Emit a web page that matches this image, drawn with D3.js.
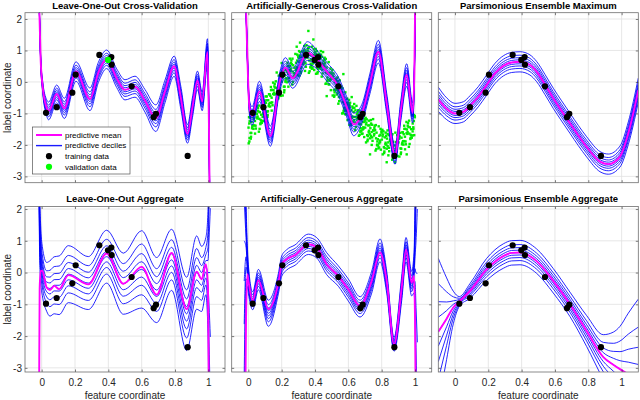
<!DOCTYPE html>
<html><head><meta charset="utf-8">
<script src="https://cdn.jsdelivr.net/npm/d3@7"></script>
<style>
body{margin:0;background:#fff}
svg{display:block}
text{font-family:"Liberation Sans",Arial,Helvetica,sans-serif}
</style>
</head><body>
<svg id="c" width="640" height="400"></svg>
<script>
// ---------------- data ----------------
const trainX = [0.026,0.09,0.184,0.204,0.346,0.398,0.418,0.42,0.54,0.672,0.686,0.876];
const trainY = [-0.98,-0.80,-0.34,0.23,0.86,0.70,0.79,0.55,-0.14,-1.12,-1.01,-2.35];
const leftOutIndex = 5;

const xTickVals = [0,0.2,0.4,0.6,0.8,1];
const xTickLabels = ["0","0.2","0.4","0.6","0.8","1"];
const yTickVals = [-3,-2,-1,0,1,2];
const yTickLabels = ["-3","-2","-1","0","1","2"];
const decileZ = [-1.2816,-0.8416,-0.5244,-0.2533,0,0.2533,0.5244,0.8416,1.2816];

// Leave-One-Out Cross-Validation
const looCvX = [-0.03,-0.02,-0.014,-0.006,0.006,0.03,0.042,0.09,0.136,0.206,0.29,0.34,0.39,0.45,0.5,0.56,0.62,0.685,0.74,0.795,0.835,0.875,0.905,0.935,0.963,0.995,1.004,1.012];
const looCvMean = [6.0,3.3,2.3,0.7,-0.15,-0.82,-0.92,-0.38,-0.84,0.33,-0.55,0.3,0.72,0.12,-0.25,-0.15,-0.6,-1.15,-0.3,0.5,-0.5,-1.65,-0.8,0.05,-0.62,0.95,-1.5,-6];
const looCvSd = [0.05,0.05,0.06,0.09,0.14,0.2,0.22,0.22,0.25,0.24,0.28,0.25,0.23,0.23,0.25,0.26,0.28,0.33,0.28,0.25,0.28,0.23,0.25,0.23,0.23,0.33,0.2,0.1];

// Artificially-Generous Cross-Validation
const agCvX = [-0.03,-0.02,-0.014,-0.006,0.006,0.022,0.066,0.132,0.19,0.222,0.266,0.355,0.41,0.47,0.54,0.59,0.632,0.68,0.73,0.78,0.83,0.88,0.915,0.95,0.986,0.996,1.006];
const agCvMean = [6.0,3.3,2.3,0.8,-0.79,-1.08,-0.3,-1.72,0.05,0.45,0.12,0.92,0.72,0.33,-0.14,-0.79,-1.35,-1.02,-0.04,0.96,-0.68,-2.32,-0.9,0.22,-0.98,0.3,5];
const agCvSd = [0.05,0.05,0.06,0.11,0.17,0.23,0.25,0.25,0.23,0.25,0.25,0.28,0.23,0.23,0.23,0.25,0.28,0.23,0.25,0.28,0.25,0.23,0.25,0.28,0.25,0.15,0.1];

// Parsimonious Ensemble Maximum
const peMaxX = [-0.1,-0.05,0,0.05,0.09,0.14,0.19,0.24,0.29,0.34,0.39,0.45,0.49,0.54,0.59,0.64,0.69,0.74,0.79,0.87,0.92,0.99,1.04,1.1];
const peMaxMean = [-0.55,-0.85,-1.0,-0.95,-0.76,-0.47,-0.1,0.27,0.51,0.62,0.64,0.54,0.33,-0.08,-0.52,-0.92,-1.31,-1.7,-2.06,-2.53,-2.61,-2.37,-1.63,-0.26];
const peMaxSd = [0.3,0.27,0.25,0.25,0.25,0.25,0.25,0.25,0.25,0.25,0.25,0.25,0.25,0.25,0.25,0.25,0.25,0.25,0.25,0.25,0.25,0.26,0.28,0.3];

// Leave-One-Out Aggregate
const looAggX = [-0.025,-0.016,-0.012,-0.006,0.004,0.03,0.05,0.075,0.105,0.16,0.28,0.39,0.49,0.6,0.69,0.78,0.87,0.93,0.96,0.985,0.998,1.004,1.012];
const looAggMean = [-8,-4.5,-0.5,0.06,0.05,-0.47,-0.55,-0.42,-0.52,-0.08,-0.37,0.6,-0.35,0.18,-0.7,0.62,-1.15,0.03,-0.21,0.26,-0.5,-4.5,-8];
const looAggMid = [6,3.5,1.5,0.6,0.05,-0.45,-0.5,-0.4,-0.4,-0.05,-0.33,0.5,-0.35,0.1,-0.55,0.4,-1.3,0.0,-0.2,0.2,0.0,0.0,0.0];
const looAggSd = [1.5,1.0,0.8,0.7,0.6,0.6,0.68,0.7,0.72,0.7,0.65,0.65,0.75,0.95,0.8,0.75,0.9,0.9,0.8,0.7,1.5,4,8];

// Artificially-Generous Aggregate
const agAggX = [-0.025,-0.014,-0.006,0.0,0.026,0.06,0.12,0.18,0.2,0.23,0.28,0.36,0.41,0.47,0.54,0.6,0.67,0.74,0.79,0.83,0.874,0.92,0.946,0.98,0.994,1.0,1.006,1.014];
const agAggMean = [-8,-1.5,-0.05,-0.25,-0.89,-0.24,-1.15,-0.32,0.26,0.42,0.55,0.89,0.79,0.26,-0.11,-0.53,-1.05,-0.26,0.63,-0.26,-2.26,-0.47,0.73,-0.32,-0.11,-1.5,-5,-8];
const agAggMid = [1,0.8,0.2,-0.2,-0.89,-0.22,-1.28,-0.35,0.2,0.4,0.55,0.89,0.78,0.28,-0.11,-0.55,-1.08,-0.3,0.7,-0.3,-2.26,-0.5,0.72,-0.35,0.0,0.5,1.0,2.0];
const agAggSd = [5,1.2,0.5,0.35,0.22,0.25,0.32,0.25,0.25,0.25,0.25,0.25,0.25,0.27,0.25,0.27,0.25,0.27,0.28,0.27,0.17,0.3,0.3,0.3,0.5,1.5,4,8];

// Parsimonious Ensemble Aggregate
const peAggX = [-0.1,-0.05,-0.01,0.026,0.09,0.19,0.29,0.34,0.39,0.49,0.59,0.69,0.79,0.89,0.95,0.99,1.04,1.1];
const peAggMean = [-1.86,-1.45,-1.1,-0.91,-0.58,0.1,0.52,0.62,0.63,0.36,-0.26,-1.0,-1.84,-2.66,-2.9,-3.04,-3.2,-3.4];
const peAggSd = [1.8,1.0,0.4,0.12,0.18,0.27,0.3,0.3,0.3,0.3,0.3,0.3,0.38,0.55,0.8,1.05,1.5,2.0];

// validation data (green cloud, Artificially-Generous CV)
const validX = [
0.001,0.016,0.008,0.022,0.004,0.013,0.019,0.006,0.024,
0.028,0.036,0.045,0.032,0.040,0.049,0.027,0.043,0.035,
0.051,0.066,0.058,0.072,0.054,0.063,0.069,0.056,0.074,
0.078,0.086,0.095,0.082,0.090,0.099,0.077,0.093,0.085,
0.101,0.116,0.108,0.122,0.104,0.113,0.119,0.106,0.124,
0.128,0.136,0.145,0.132,0.140,0.149,0.127,0.143,0.135,
0.151,0.166,0.158,0.172,0.154,0.163,0.169,0.156,0.174,
0.178,0.186,0.195,0.182,0.190,0.199,0.177,0.193,0.185,
0.201,0.216,0.208,0.222,0.204,0.213,0.219,0.206,0.224,
0.228,0.236,0.245,0.232,0.240,0.249,0.227,0.243,0.235,
0.251,0.266,0.258,0.272,0.254,0.263,0.269,0.256,0.274,
0.278,0.286,0.295,0.282,0.290,0.299,0.277,0.293,0.285,
0.301,0.316,0.308,0.322,0.304,0.313,0.319,0.306,0.324,
0.328,0.336,0.345,0.332,0.340,0.349,0.327,0.343,0.335,
0.351,0.366,0.358,0.372,0.354,0.363,0.369,0.356,0.374,
0.378,0.386,0.395,0.382,0.390,0.399,0.377,0.393,0.385,
0.401,0.416,0.408,0.422,0.404,0.413,0.419,0.406,0.424,
0.428,0.436,0.445,0.432,0.440,0.449,0.427,0.443,0.435,
0.451,0.466,0.458,0.472,0.454,0.463,0.469,0.456,0.474,
0.478,0.486,0.495,0.482,0.490,0.499,0.477,0.493,0.485,
0.501,0.516,0.508,0.522,0.504,0.513,0.519,0.506,0.524,
0.528,0.536,0.545,0.532,0.540,0.549,0.527,0.543,0.535,
0.551,0.566,0.558,0.572,0.554,0.563,0.569,0.556,0.574,
0.578,0.586,0.595,0.582,0.590,0.599,0.577,0.593,0.585,
0.601,0.616,0.608,0.622,0.604,0.613,0.619,0.606,0.624,
0.628,0.636,0.645,0.632,0.640,0.649,0.627,0.643,0.635,
0.651,0.666,0.658,0.672,0.654,0.663,0.669,0.656,0.674,
0.678,0.686,0.695,0.682,0.690,0.699,0.677,0.693,0.685,
0.701,0.716,0.708,0.722,0.704,0.713,0.719,0.706,0.724,
0.728,0.736,0.745,0.732,0.740,0.749,0.727,0.743,0.735,
0.751,0.766,0.758,0.772,0.754,0.763,0.769,0.756,0.774,
0.778,0.786,0.795,0.782,0.790,0.799,0.777,0.793,0.785,
0.801,0.816,0.808,0.822,0.804,0.813,0.819,0.806,0.824,
0.828,0.836,0.845,0.832,0.840,0.849,0.827,0.843,0.835,
0.851,0.866,0.858,0.872,0.854,0.863,0.869,0.856,0.874,
0.878,0.886,0.895,0.882,0.890,0.899,0.877,0.893,0.885,
0.901,0.916,0.908,0.922,0.904,0.913,0.919,0.906,0.924,
0.928,0.936,0.945,0.932,0.940,0.949,0.927,0.943,0.935,
0.951,0.966,0.958,0.972,0.954,0.963,0.969,0.956,0.974,
0.978,0.986,0.995,0.982,0.990,0.999,0.977,0.993,0.985,
0.36,0.31,0.29,0.002,0.007,0.57,0.62,0.88,0.95,0.2,0.17,0.39,0.47,0.73,0.83,
0.0055,0.0175,0.0105,0.0235,0.0145, 0.0305,0.0425,0.0355,0.0485,0.0395,
0.0555,0.0675,0.0605,0.0735,0.0645, 0.0805,0.0925,0.0855,0.0985,0.0895,
0.1055,0.1175,0.1105,0.1235,0.1145, 0.1305,0.1425,0.1355,0.1485,0.1395,
0.1555,0.1675,0.1605,0.1735,0.1645, 0.1805,0.1925,0.1855,0.1985,0.1895,
0.2055,0.2175,0.2105,0.2235,0.2145, 0.2305,0.2425,0.2355,0.2485,0.2395,
0.2555,0.2675,0.2605,0.2735,0.2645, 0.2805,0.2925,0.2855,0.2985,0.2895,
0.3055,0.3175,0.3105,0.3235,0.3145, 0.3305,0.3425,0.3355,0.3485,0.3395,
0.3555,0.3675,0.3605,0.3735,0.3645, 0.3805,0.3925,0.3855,0.3985,0.3895,
0.4055,0.4175,0.4105,0.4235,0.4145, 0.4305,0.4425,0.4355,0.4485,0.4395,
0.4555,0.4675,0.4605,0.4735,0.4645, 0.4805,0.4925,0.4855,0.4985,0.4895,
0.5055,0.5175,0.5105,0.5235,0.5145, 0.5305,0.5425,0.5355,0.5485,0.5395,
0.5555,0.5675,0.5605,0.5735,0.5645, 0.5805,0.5925,0.5855,0.5985,0.5895,
0.6055,0.6175,0.6105,0.6235,0.6145, 0.6305,0.6425,0.6355,0.6485,0.6395,
0.6555,0.6675,0.6605,0.6735,0.6645, 0.6805,0.6925,0.6855,0.6985,0.6895,
0.7055,0.7175,0.7105,0.7235,0.7145, 0.7305,0.7425,0.7355,0.7485,0.7395,
0.7555,0.7675,0.7605,0.7735,0.7645, 0.7805,0.7925,0.7855,0.7985,0.7895,
0.8055,0.8175,0.8105,0.8235,0.8145, 0.8305,0.8425,0.8355,0.8485,0.8395,
0.8555,0.8675,0.8605,0.8735,0.8645, 0.8805,0.8925,0.8855,0.8985,0.8895,
0.9055,0.9175,0.9105,0.9235,0.9145, 0.9305,0.9425,0.9355,0.9485,0.9395,
0.9555,0.9675,0.9605,0.9735,0.9645, 0.9805,0.9925,0.9855,0.9985,0.9895];
const validY = [
-1.45,-1.74,-1.25,-1.47,-1.12,-1.62,-1.27,-1.89,-1.09,
-1.38,-0.99,-1.48,-1.16,-1.64,-1.13,-1.10,-1.39,-0.89,
-1.02,-1.17,-0.82,-1.34,-1.16,-1.58,-0.96,-0.91,-1.21,
-1.23,-0.86,-1.24,-0.59,-1.03,-0.67,-1.04,-0.59,-1.24,
-0.79,-1.05,-0.58,-0.77,-0.46,-0.94,-0.58,-1.22,-0.39,
-0.67,-0.26,-0.74,-0.44,-0.91,-0.38,-0.39,-0.65,-0.16,
-0.26,-0.39,-0.06,-0.56,-0.40,-0.81,-0.19,-0.14,-0.43,
-0.45,-0.07,-0.44,0.20,-0.24,0.13,-0.25,0.20,-0.45,
0.01,-0.26,0.22,0.01,0.34,-0.15,0.21,-0.43,0.39,
0.12,0.51,0.02,0.33,-0.15,0.38,0.39,0.12,0.61,
0.49,0.33,0.68,0.15,0.35,-0.08,0.53,0.60,0.28,
0.26,0.61,0.22,0.89,0.43,0.78,0.45,0.87,0.24,
0.65,0.33,0.84,0.59,0.98,0.46,0.80,0.20,0.97,
0.69,1.03,0.48,0.88,0.35,0.81,0.97,0.59,1.14,
0.93,0.68,1.08,0.46,0.77,0.29,0.86,1.01,0.58,
0.51,0.82,0.38,1.12,0.62,0.92,0.71,1.04,0.45,
0.75,0.32,0.88,0.53,1.05,0.47,0.76,0.26,0.89,
0.57,0.87,0.27,0.74,0.17,0.58,0.85,0.39,0.98,
0.67,0.30,0.77,0.03,0.49,-0.06,0.46,0.71,0.14,
0.06,0.29,-0.26,0.63,0.04,0.25,0.27,0.43,-0.08,
0.10,-0.43,0.19,-0.26,0.38,-0.26,-0.01,-0.43,0.10,
-0.25,0.02,-0.61,-0.09,-0.69,-0.31,0.04,-0.48,0.14,
-0.23,-0.64,-0.15,-0.92,-0.42,-1.00,-0.49,-0.20,-0.82,
-0.90,-0.67,-1.21,-0.33,-0.92,-0.71,-0.69,-0.53,-1.03,
-0.86,-1.33,-0.74,-1.14,-0.57,-1.17,-0.90,-1.36,-0.78,
-1.11,-0.82,-1.43,-0.95,-1.53,-1.12,-0.83,-1.30,-0.70,
-1.02,-1.33,-0.90,-1.58,-1.20,-1.71,-1.17,-0.96,-1.47,
-1.55,-1.27,-1.75,-0.96,-1.49,-1.23,-1.35,-1.08,-1.64,
-1.45,-1.83,-1.29,-1.60,-1.14,-1.69,-1.38,-1.92,-1.23,
-1.66,-1.32,-1.87,-1.47,-2.00,-1.54,-1.38,-1.76,-1.21,
-1.54,-1.79,-1.39,-2.01,-1.70,-2.18,-1.61,-1.46,-1.89,
-2.02,-1.71,-2.15,-1.41,-1.91,-1.61,-1.82,-1.49,-2.08,
-1.83,-2.21,-1.67,-1.98,-1.52,-2.07,-1.76,-2.30,-1.61,
-1.99,-1.65,-2.20,-1.80,-2.33,-1.87,-1.71,-2.09,-1.54,
-1.83,-2.08,-1.68,-2.30,-1.99,-2.47,-1.90,-1.75,-2.18,
-2.22,-1.91,-2.35,-1.61,-2.11,-1.81,-2.02,-1.69,-2.28,
-1.92,-2.24,-1.73,-1.98,-1.59,-2.11,-1.77,-2.37,-1.60,
-1.88,-1.49,-1.98,-1.66,-2.14,-1.63,-1.60,-1.89,-1.39,
-1.51,-1.64,-1.31,-1.81,-1.65,-2.06,-1.44,-1.39,-1.68,
-1.70,-1.32,-1.69,-1.05,-1.49,-1.12,-1.50,-1.05,-1.70,
1.62,1.25,1.12,-1.95,-1.78,0.25,-0.48,-2.55,-2.3,0.6,0.3,1.35,-0.45,-2.3,-2.55,
-1.32,-1.62,-1.13,-1.41,-1.80, -1.49,-0.99,-1.38,-0.77,-1.24,
-1.10,-1.49,-0.94,-1.31,-0.75, -1.30,-0.79,-1.11,-0.63,-0.99,
-0.66,-0.93,-0.46,-0.71,-1.11, -0.78,-0.25,-0.66,-0.02,-0.50,
-0.34,-0.72,-0.18,-0.53,0.02, -0.52,0.01,-0.32,0.17,-0.19,
0.14,-0.15,0.34,0.07,-0.33, -0.01,0.51,0.11,0.74,0.26,
0.41,0.00,0.56,0.18,0.74, 0.18,0.68,0.37,0.83,0.48,
0.77,0.45,0.95,0.64,0.28, 0.56,0.99,0.64,1.17,0.76,
0.82,0.34,0.94,0.48,1.10, 0.42,0.85,0.58,0.96,0.67,
0.83,0.42,0.98,0.58,0.27, 0.43,0.80,0.48,0.95,0.58,
0.53,-0.05,0.61,0.04,0.73, -0.07,0.25,0.05,0.30,0.10,
0.15,-0.33,0.27,-0.22,-0.47, -0.40,-0.08,-0.36,0.05,-0.28,
-0.39,-0.99,-0.32,-0.91,-0.20, -1.02,-0.71,-0.91,-0.66,-0.86,
-0.79,-1.23,-0.66,-1.10,-1.37, -1.26,-0.90,-1.21,-0.76,-1.11,
-1.15,-1.68,-1.05,-1.56,-0.91, -1.65,-1.27,-1.51,-1.18,-1.44,
-1.35,-1.72,-1.19,-1.55,-1.88, -1.79,-1.36,-1.71,-1.18,-1.59,
-1.65,-2.13,-1.53,-1.99,-1.37, -2.11,-1.68,-1.95,-1.57,-1.86,
-1.73,-2.10,-1.57,-1.93,-2.26, -2.12,-1.69,-2.04,-1.51,-1.92,
-1.94,-2.42,-1.82,-2.28,-1.66, -2.31,-1.88,-2.15,-1.77,-2.06,
-1.80,-2.12,-1.62,-1.93,-2.29, -1.99,-1.49,-1.88,-1.27,-1.74,
-1.59,-1.97,-1.43,-1.78,-1.23, -1.77,-1.24,-1.57,-1.08,-1.44];

const panels = [
  {title:"Leave-One-Out Cross-Validation", row:0, col:0, x:looCvX, mean:looCvMean, sd:looCvSd, legend:true, leaveOut:true},
  {title:"Artificially-Generous Cross-Validation", row:0, col:1, x:agCvX, mean:agCvMean, sd:agCvSd, cloud:true},
  {title:"Parsimonious Ensemble Maximum", row:0, col:2, x:peMaxX, mean:peMaxMean, sd:peMaxSd},
  {title:"Leave-One-Out Aggregate", row:1, col:0, x:looAggX, mean:looAggMean, mid:looAggMid, sd:looAggSd},
  {title:"Artificially-Generous Aggregate", row:1, col:1, x:agAggX, mean:agAggMean, mid:agAggMid, sd:agAggSd},
  {title:"Parsimonious Ensemble Aggregate", row:1, col:2, x:peAggX, mean:peAggMean, sd:peAggSd}
];

// ---------------- layout ----------------
const colLeft = [25, 231.7, 438.3], PW = 200;
const rowRange = [[12.7,182.7],[206.5,372]];
const rowDomain = [[-3.2,2.2],[-3.13,2.08]];
const FONT = '"Liberation Sans",Arial,Helvetica,sans-serif';
const INK = '#262626';

const svg = d3.select('#c');
const defs = svg.append('defs');

panels.forEach((p,i)=>{
  const L = colLeft[p.col], T = rowRange[p.row][0], B = rowRange[p.row][1];
  const x = d3.scaleLinear().domain([-0.1,1.1]).range([L, L+PW]);
  const y = d3.scaleLinear().domain(rowDomain[p.row]).range([B, T]);
  defs.append('clipPath').attr('id','clip'+i).append('rect')
    .attr('x',L).attr('y',T).attr('width',PW).attr('height',B-T);
  const g = svg.append('g');

  // grid
  g.append('g').selectAll('line').data(xTickVals).join('line')
    .attr('x1',d=>x(d)).attr('x2',d=>x(d)).attr('y1',T).attr('y2',B)
    .attr('stroke','#e1e1e1').attr('stroke-width',0.8);
  g.append('g').selectAll('line').data(yTickVals).join('line')
    .attr('y1',d=>y(d)).attr('y2',d=>y(d)).attr('x1',L).attr('x2',L+PW)
    .attr('stroke','#e1e1e1').attr('stroke-width',0.8);

  const plot = g.append('g').attr('clip-path',`url(#clip${i})`);
  const line = d3.line().x(d=>x(d[0])).y(d=>y(d[1])).curve(d3.curveMonotoneX);
  const mid = p.mid || p.mean;

  if (p.cloud) {
    plot.append('g').selectAll('rect').data(validX).join('rect')
      .attr('x',(d,k)=>x(d)-1.2).attr('y',(d,k)=>y(validY[k])-1.2)
      .attr('width',2.4).attr('height',2.4).attr('fill','#00ee00');
  }

  decileZ.forEach(z=>{
    const pts = p.x.map((xv,k)=>[xv, mid[k] + z*p.sd[k]]);
    plot.append('path').attr('d', line(pts)).attr('fill','none')
      .attr('stroke','#0000ff').attr('stroke-width',0.85);
  });
  plot.append('path').attr('d', line(p.x.map((xv,k)=>[xv,p.mean[k]])))
    .attr('fill','none').attr('stroke','#ff00ff').attr('stroke-width',1.9);

  // training points
  const tIdx = trainX.map((d,k)=>k).filter(k=>!(p.leaveOut && k===leftOutIndex));
  plot.append('g').selectAll('circle').data(tIdx).join('circle')
    .attr('cx',k=>x(trainX[k])).attr('cy',k=>y(trainY[k])).attr('r',3.1).attr('fill','#000');
  if (p.leaveOut) {
    plot.append('circle').attr('cx',x(trainX[leftOutIndex])).attr('cy',y(trainY[leftOutIndex]))
      .attr('r',3.1).attr('fill','#00ff00');
  }

  // axes
  const styleAxis = a => { a.select('.domain').remove();
    a.selectAll('line').attr('stroke',INK).attr('stroke-width',0.6);
    a.selectAll('text').attr('fill',INK).attr('font-family',FONT).attr('font-size',10); };
  g.append('g').attr('transform',`translate(${L},0)`)
    .call(d3.axisLeft(y).tickValues(yTickVals).tickSize(-2.5).tickPadding(3)
      .tickFormat((d,k)=> p.col===0 ? yTickLabels[k] : '')).call(styleAxis);
  g.append('g').attr('transform',`translate(${L+PW},0)`)
    .call(d3.axisRight(y).tickValues(yTickVals).tickSize(-2.5).tickFormat('')).call(styleAxis);
  g.append('g').attr('transform',`translate(0,${B})`)
    .call(d3.axisBottom(x).tickValues(xTickVals).tickSize(-2.5).tickPadding(7)
      .tickFormat((d,k)=> p.row===1 ? xTickLabels[k] : '')).call(styleAxis);
  g.append('g').attr('transform',`translate(0,${T})`)
    .call(d3.axisTop(x).tickValues(xTickVals).tickSize(-2.5).tickFormat('')).call(styleAxis);

  g.append('rect').attr('x',L).attr('y',T).attr('width',PW).attr('height',B-T)
    .attr('fill','none').attr('stroke','#6e6e6e').attr('stroke-width',0.8);

  // title
  g.append('text').attr('x',L+PW/2).attr('y',T-4.2).attr('text-anchor','middle')
    .attr('font-size',9.5).attr('font-weight','bold').attr('fill','#000').text(p.title);

  if (p.row===1) {
    g.append('text').attr('x',L+PW/2).attr('y',398.5).attr('text-anchor','middle')
      .attr('font-size',10).attr('fill',INK).text('feature coordinate');
  }
  if (p.col===0) {
    g.append('text').attr('transform',`translate(10.5,${(T+B)/2}) rotate(-90)`)
      .attr('text-anchor','middle').attr('font-size',10).attr('fill',INK).text('label coordinate');
  }

  if (p.legend) {
    const lg = g.append('g');
    lg.append('rect').attr('x',32.5).attr('y',127).attr('width',97.5).attr('height',47)
      .attr('fill','#fff').attr('stroke','#555').attr('stroke-width',0.7);
    const rows = [
      {t:'predictive mean', type:'line', c:'#ff00ff', w:2},
      {t:'predictive deciles', type:'line', c:'#1a1aff', w:1.4},
      {t:'training data', type:'dot', c:'#000'},
      {t:'validation data', type:'dot', c:'#00ff00'}
    ];
    rows.forEach((r,k)=>{
      const yy = 135 + k*10.6;
      if (r.type==='line') lg.append('line').attr('x1',36).attr('x2',62).attr('y1',yy).attr('y2',yy)
        .attr('stroke',r.c).attr('stroke-width',r.w);
      else lg.append('circle').attr('cx',49).attr('cy',yy).attr('r',3.1).attr('fill',r.c);
      lg.append('text').attr('x',65).attr('y',yy).attr('dy','0.35em').attr('font-size',8)
        .attr('fill','#000').text(r.t);
    });
  }
});
</script>
</body></html>
